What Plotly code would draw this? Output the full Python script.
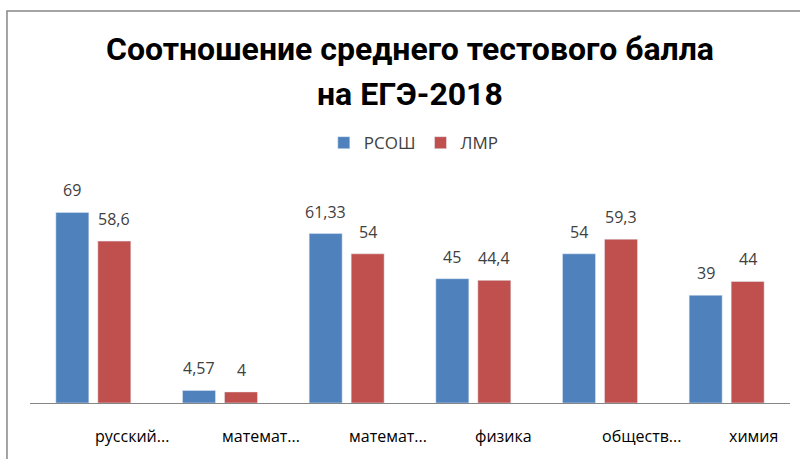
import plotly.graph_objects as go

categories = ["русский...", "математ...", "математ... ", "физика", "обществ...", "химия"]
rsosh = [69, 4.57, 61.33, 45, 54, 39]
lmr = [58.6, 4, 54, 44.4, 59.3, 44]
rsosh_text = ["69", "4,57", "61,33", "45", "54", "39"]
lmr_text = ["58,6", "4", "54", "44,4", "59,3", "44"]
title_lines = ["Соотношение среднего тестового балла", "на ЕГЭ-2018"]

BLUE = "#4F81BD"
RED = "#C0504D"
FONT = "Open Sans"
TFONT = "Roboto"

fig = go.Figure()
fig.add_trace(go.Bar(x=categories, y=rsosh, name="РСОШ", marker=dict(color=BLUE)))
fig.add_trace(go.Bar(x=categories, y=lmr, name="ЛМР", marker=dict(color=RED)))

# data labels
for i in range(len(categories)):
    for vals, txts, dx in ((rsosh, rsosh_text, -21), (lmr, lmr_text, 21)):
        fig.add_annotation(x=i, xref="x", y=vals[i], yref="y", xshift=dx, yshift=9,
                           text=txts[i], showarrow=False, xanchor="center", yanchor="bottom",
                           font=dict(size=16, color="#404040", family=FONT))

# category labels (left-aligned at category centre)
for i, c in enumerate(categories):
    fig.add_annotation(x=i, xref="x", y=0, yref="paper", yshift=-33, text=c.strip(),
                       showarrow=False, xanchor="left", yanchor="middle",
                       font=dict(size=16, color="#000000", family=FONT))

# title lines
for txt, yy in zip(title_lines, (1.602, 1.397)):
    fig.add_annotation(x=0.5, xref="paper", y=yy, yref="paper", text="<b>" + txt + "</b>",
                       showarrow=False, xanchor="center", yanchor="middle",
                       font=dict(size=32, color="#000000", family=TFONT))

fig.add_shape(type="rect", xref="paper", yref="paper", x0=-0.0303, x1=1.03, y0=-0.35, y1=1.774,
              line=dict(color="#868686", width=1.5), fillcolor="rgba(0,0,0,0)", layer="below")

fig.update_layout(
    width=800, height=459,
    margin=dict(l=30, r=10, t=182, b=56),
    paper_bgcolor="white", plot_bgcolor="white",
    barmode="group", bargap=0.337, bargroupgap=0.214,
    legend=dict(orientation="h", x=0.505, xanchor="center", y=1.176, yanchor="middle",
                font=dict(size=17, color="#404040", family=FONT),
                traceorder="normal", bgcolor="rgba(0,0,0,0)"),
    xaxis=dict(showline=True, linecolor="#868686", linewidth=1, showticklabels=False,
               ticks="", showgrid=False, zeroline=False, type="category"),
    yaxis=dict(range=[0, 80], visible=False, showgrid=False, zeroline=False),
    showlegend=True,
)

fig.write_html("out.html", config={"displayModeBar": False},
               post_script="document.body.style.margin='0';")
